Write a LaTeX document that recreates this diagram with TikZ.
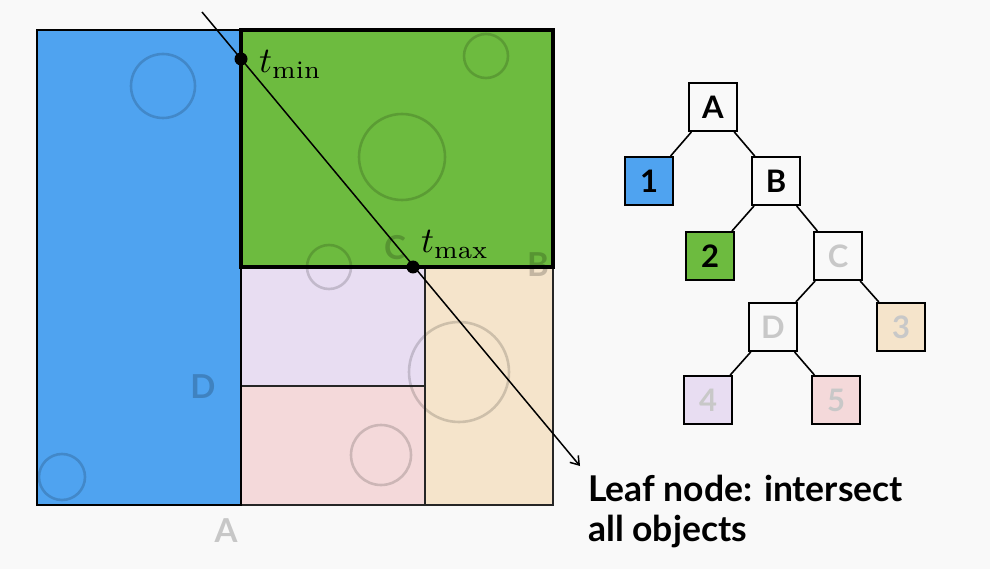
\documentclass[tikz,border=0pt]{standalone}
\usepackage{graphicx}
\usepackage{fontspec}
\setsansfont{Lato}
\usetikzlibrary{arrows.meta}
\definecolor{fundo}{HTML}{F9F9F9}
\definecolor{azul}{HTML}{4FA3F0}
\definecolor{verde}{HTML}{6DBB3F}
\definecolor{lilas}{HTML}{E8DDF2}
\definecolor{rosa}{HTML}{F4D9DA}
\definecolor{areia}{HTML}{F5E4CB}
\definecolor{cinza}{HTML}{C8C8C8}
\newcommand{\param}[1]{\scalebox{3.6}{$t_{#1}$}}
\begin{document}
\begin{tikzpicture}[x=1pt, y=-1pt,
        font=\sffamily\bfseries,
        caixa/.style={draw, line width=2pt, minimum size=48pt, inner sep=0pt, font=\sffamily\bfseries\fontsize{31}{31}\selectfont},
        aresta/.style={line width=1.6pt},
        bolha/.style={draw=black, draw opacity=0.16, line width=2.6pt},
        rotulo/.style={text=black, text opacity=0.2, font=\sffamily\bfseries\fontsize{33}{33}\selectfont},
        celula/.style={draw=black!85, line width=1.5pt},
        rotparam/.style={anchor=base west, inner sep=0pt, font=\normalfont\fontsize{10}{10}\selectfont}]
        \fill[fundo] (0,0) rectangle (990,569);
        \useasboundingbox (0,0) rectangle (990,569);
        % regioes
        \fill[azul] (37,30) rectangle (241,505);
        \fill[verde] (241,30) rectangle (553,267);
        \fill[lilas] (241,267) rectangle (425,386);
        \fill[rosa] (241,386) rectangle (425,505);
        \fill[areia] (425,267) rectangle (553,505);
        \foreach \cx/\cy/\r in {163/86/32, 62/477/23, 486/56/22, 402/157/43, 329/267/22, 459/372/50, 381/455/30}{
            \draw[bolha] (\cx,\cy) circle (\r pt);
        }
        \draw[celula] (241,267) rectangle (425,386);
        \draw[celula] (241,386) rectangle (425,505);
        \draw[celula] (425,267) rectangle (553,505);
        \draw[line width=2pt] (37,30) rectangle (241,505);
        \draw[line width=4pt] (241,30) rectangle (553,267);
        \node[rotulo] (lA) at (226,531) {A};
        \node[rotulo] (lB) at (538,265) {B};
        \node[rotulo] (lC) at (395,248) {C};
        \node[rotulo] (lD) at (203,387) {D};
        % raio
        \coordinate (r0) at (202,12);
        \coordinate (tmin) at (241,59);
        \coordinate (tmax) at (413,267);
        \coordinate (r1) at (580,466);
        \draw[line width=1.5pt, -{Straight Barb[length=8pt, width=11pt]}] (r0) -- (r1);
        \fill (tmin) circle (6.5pt);
        \fill (tmax) circle (6.5pt);
        \node[rotparam] (ltmin) at (259,73) {\param{\min}};
        \node[rotparam] (ltmax) at (421,253) {\param{\max}};
        \node[anchor=base west, inner sep=0pt, align=left, font=\sffamily\bfseries\fontsize{35.5}{40}\selectfont] (folha) at (588,541) {Leaf node: intersect\\all objects};
        % arvore
        \foreach \nome/\x/\y/\cor/\tinta in {
            A/713/107/none/black,
            B/776/181/none/black,
            C/838/256/none/cinza,
            D/773/327/none/cinza,
            1/649/181/azul/black,
            2/710/256/verde/black,
            3/901/327/areia/cinza,
            4/708/400/lilas/cinza,
            5/836/400/rosa/cinza}{
            \node[caixa, fill=\cor, text=\tinta] (n\nome) at (\x,\y) {\nome};
        }
        \foreach \a/\b in {A/1, A/B, B/2, B/C, C/D, C/3, D/4, D/5}{
            \draw[aresta] (n\a) -- (n\b);
        }
    \end{tikzpicture}
\end{document}
